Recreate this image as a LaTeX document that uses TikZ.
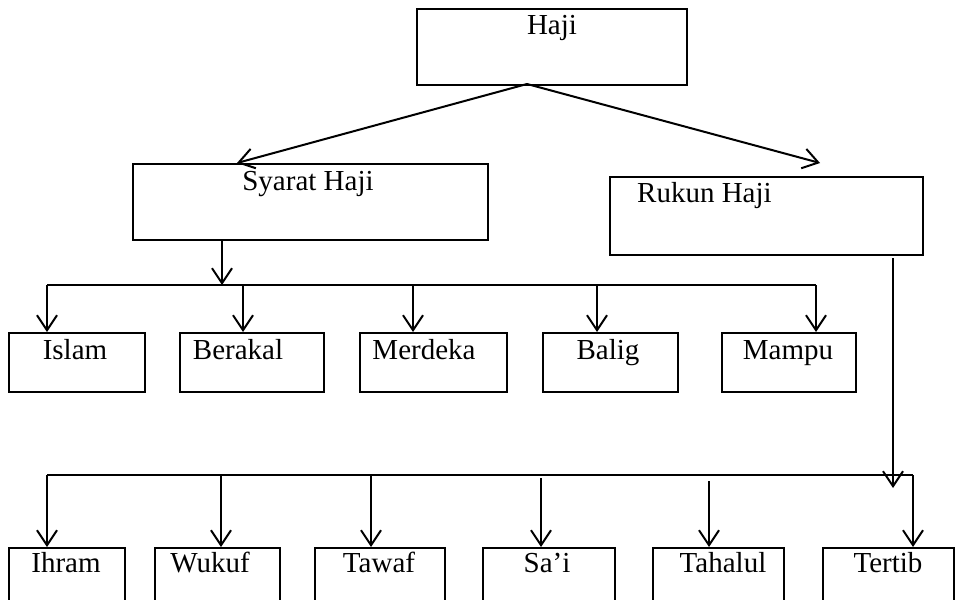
\documentclass[tikz,border=0pt]{standalone}
\usepackage{fontspec}
\setmainfont{Liberation Serif}
\usetikzlibrary{arrows.meta}
\begin{document}
\begin{tikzpicture}[x=1pt,y=-1pt,
  box/.style={draw=black,line width=2.2pt,rectangle,inner sep=0pt,anchor=north west},
  lbl/.style={font=\fontsize{29}{34}\selectfont,inner sep=0pt,anchor=base},
  arr/.style={draw=black,line width=2pt,-{Straight Barb[length=15pt,width=20pt,line width=2pt]}},
  bus/.style={draw=black,line width=1.4pt}]
\useasboundingbox (0,0) rectangle (960,599);
\clip (0,0) rectangle (960,599);
% boxes
\node[box,minimum width=270pt,minimum height=76pt] (haji) at (416,8) {};
\node[box,minimum width=355pt,minimum height=76pt] (syarat) at (132,163) {};
\node[box,minimum width=313pt,minimum height=78pt] (rukun) at (609,176) {};
\node[box,minimum width=136pt,minimum height=59pt] (islam) at (8,332) {};
\node[box,minimum width=144pt,minimum height=59pt] (berakal) at (179,332) {};
\node[box,minimum width=147pt,minimum height=59pt] (merdeka) at (359,332) {};
\node[box,minimum width=135pt,minimum height=59pt] (balig) at (542,332) {};
\node[box,minimum width=134pt,minimum height=59pt] (mampu) at (721,332) {};
\node[box,minimum width=116pt,minimum height=80pt] (ihram) at (8,547) {};
\node[box,minimum width=125pt,minimum height=80pt] (wukuf) at (154,547) {};
\node[box,minimum width=130pt,minimum height=80pt] (tawaf) at (314,547) {};
\node[box,minimum width=132pt,minimum height=80pt] (sai) at (482,547) {};
\node[box,minimum width=131pt,minimum height=80pt] (tahalul) at (652,547) {};
\node[box,minimum width=131pt,minimum height=80pt] (tertib) at (822,547) {};
% labels
\node[lbl] (thaji) at (552,35) {Haji};
\node[lbl] (tsyarat) at (308,190) {Syarat Haji};
\node[lbl,anchor=base west] (trukun) at (637,202) {Rukun Haji};
\node[lbl] (tislam) at (75,359) {Islam};
\node[lbl] (tberakal) at (238,359) {Berakal};
\node[lbl] (tmerdeka) at (424,359) {Merdeka};
\node[lbl] (tbalig) at (608,359) {Balig};
\node[lbl] (tmampu) at (788,359) {Mampu};
\node[lbl] (tihram) at (66,572) {Ihram};
\node[lbl] (twukuf) at (210,572) {Wukuf};
\node[lbl] (ttawaf) at (379,572) {Tawaf};
\node[lbl] (tsai) at (547,572) {Sa’i};
\node[lbl] (ttahalul) at (723,572) {Tahalul};
\node[lbl] (ttertib) at (888,572) {Tertib};
% connector points
\coordinate (hs) at (527,84);
\coordinate (st) at (237,163);
\coordinate (rt) at (820,163);
\coordinate (sb) at (222,239);
\coordinate (b1) at (222,285);
\coordinate (b1l) at (47,285);
\coordinate (b1r) at (816,285);
\coordinate (rb) at (893,258);
\coordinate (b2) at (893,488);
\coordinate (b2l) at (47,475);
\coordinate (b2r) at (913,475);
% top arrows
\draw[arr] (hs) -- (st);
\draw[arr] (hs) -- (rt);
% syarat branch
\draw[arr] (sb) -- (b1);
\draw[bus] (b1l) -- (b1r);
\draw[arr] (b1l) -- (islam.north west -| b1l);
\draw[arr] (243,285) -- (243,332);
\draw[arr] (413,285) -- (413,332);
\draw[arr] (597,285) -- (597,332);
\draw[arr] (b1r) -- (816,332);
% rukun branch
\draw[arr] (rb) -- (b2);
\draw[bus] (b2l) -- (b2r);
\draw[arr] (b2l) -- (47,547);
\draw[arr] (221,475) -- (221,547);
\draw[arr] (371,475) -- (371,547);
\draw[arr] (541,478) -- (541,547);
\draw[arr] (709,481) -- (709,547);
\draw[arr] (b2r) -- (913,547);
\end{tikzpicture}
\end{document}
